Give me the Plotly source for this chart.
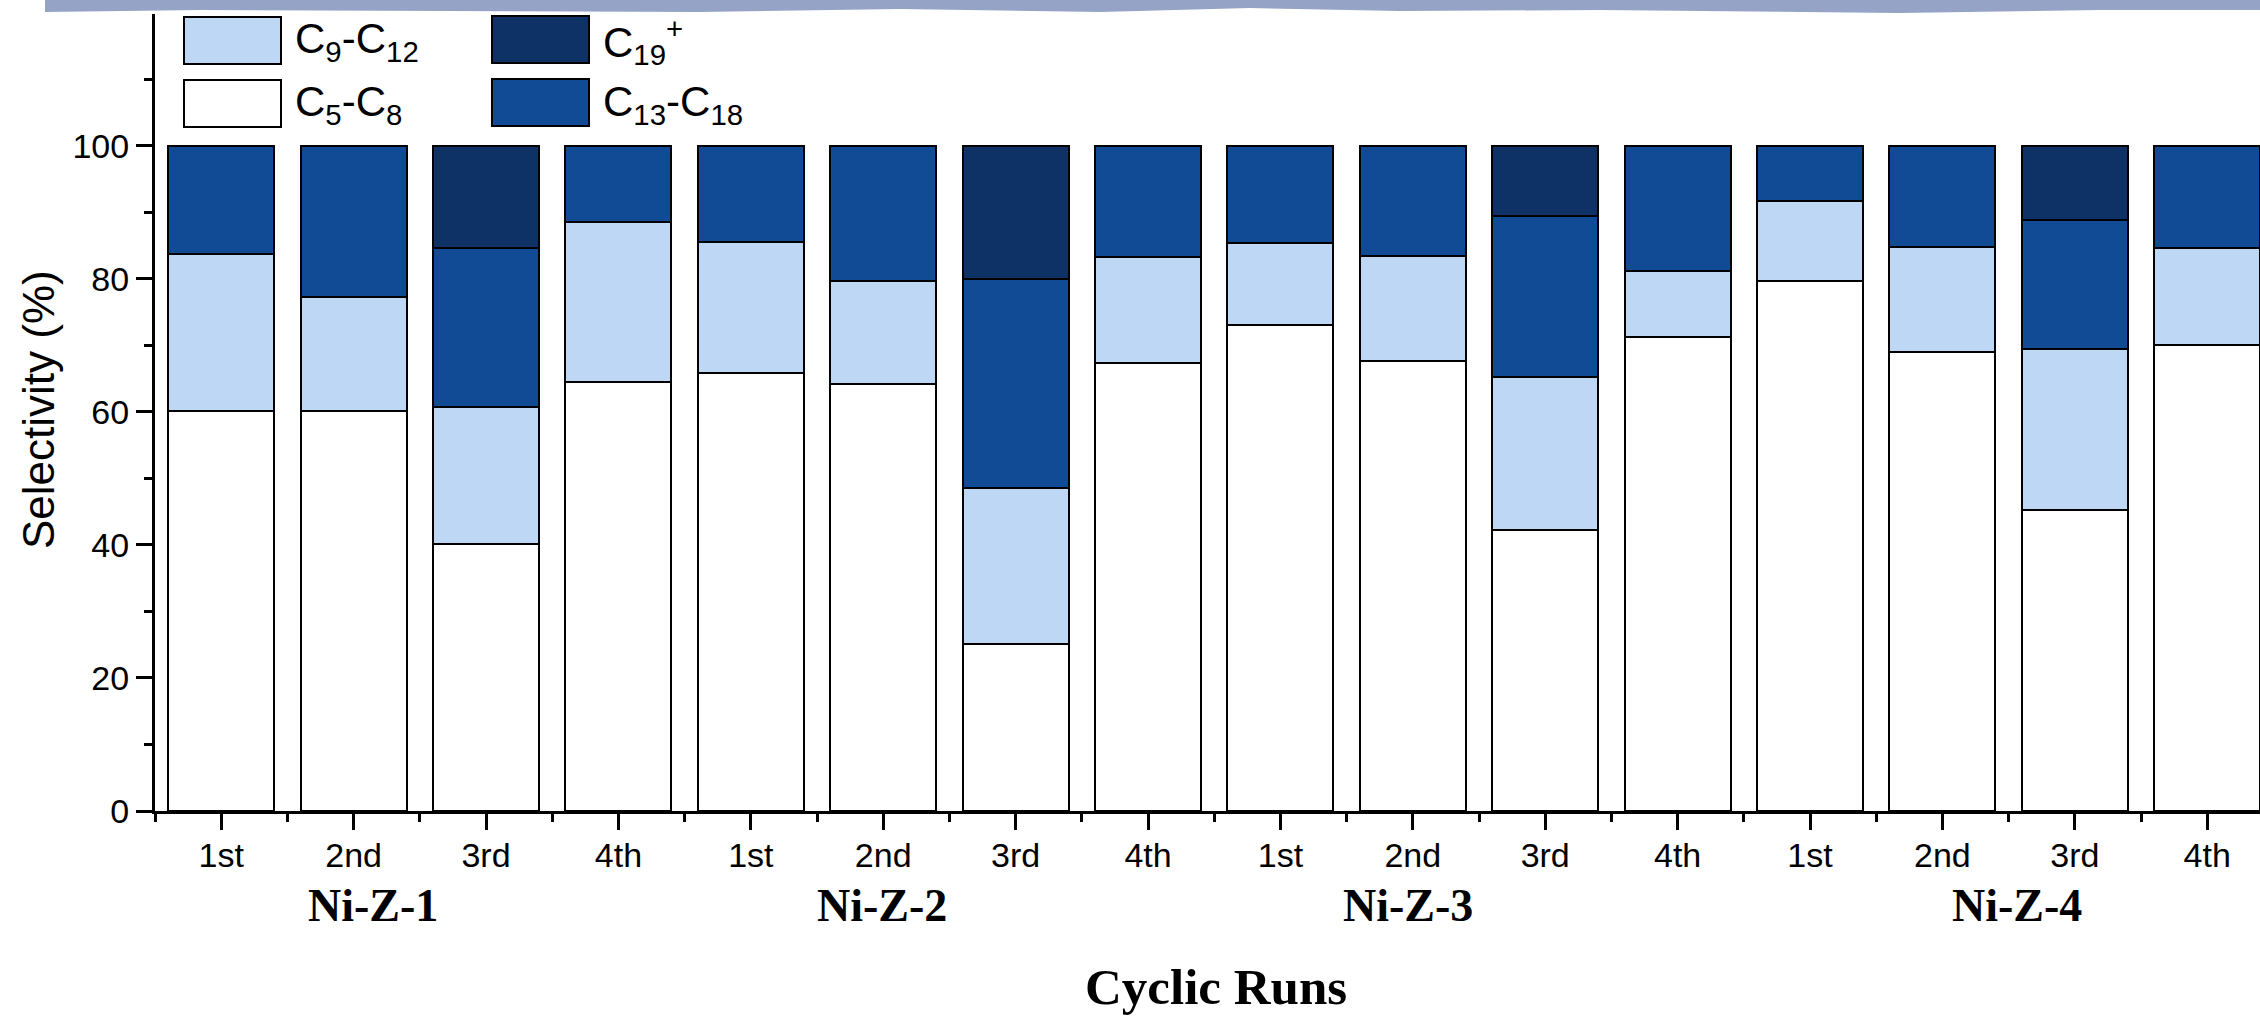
import plotly.graph_objects as go

# ---------------- data ----------------
runs = ["1st", "2nd", "3rd", "4th"] * 4
groups = ["Ni-Z-1", "Ni-Z-2", "Ni-Z-3", "Ni-Z-4"]
group_label_pos = [1.15, 4.99, 8.96, 13.56]

c5_c8 = [60.2, 60.2, 40.2, 64.5, 65.9, 64.2, 25.1, 67.4, 73.0, 67.6, 42.3, 71.2, 79.7, 69.0, 45.2, 70.1]
c9_c12 = [23.6, 17.0, 20.6, 24.0, 19.7, 15.5, 23.4, 15.8, 12.4, 15.8, 23.0, 10.0, 12.0, 15.8, 24.2, 14.6]
c13_c18 = [16.2, 22.8, 23.9, 11.5, 14.4, 20.3, 31.4, 16.8, 14.6, 16.6, 24.2, 18.8, 8.3, 15.2, 19.5, 15.3]
c19_plus = [None, None, 15.3, None, None, None, 20.1, None, None, None, 10.5, None, None, None, 11.1, None]

series_names = ["C5-C8", "C9-C12", "C13-C18", "C19+"]
series_values = [c5_c8, c9_c12, c13_c18, c19_plus]
series_colors = ["#FFFFFF", "#BDD7F5", "#124B95", "#0E3166"]

# ---------------- geometry ----------------
W, H = 2260, 1017
ML, MR, MT, MB = 155, 0, 14, 206
PW = W - ML - MR
PH = H - MT - MB


def px_x(p):
    return (p - ML) / PW


def px_y(p):
    return (H - MB - p) / PH


xpos = list(range(len(runs)))

fig = go.Figure()
for name, vals, col in zip(series_names, series_values, series_colors):
    fig.add_trace(go.Bar(
        x=xpos, y=vals, name=name, width=0.8,
        marker=dict(color=col, line=dict(color="black", width=2)),
        showlegend=False,
    ))

SANS = "Liberation Sans, Arial, sans-serif"
SERIF = "Liberation Serif, Times New Roman, serif"

fig.update_layout(
    width=W, height=H,
    margin=dict(l=ML, r=MR, t=MT, b=MB),
    barmode="stack",
    plot_bgcolor="white", paper_bgcolor="white",
    font=dict(family=SANS, color="black", size=34),
    xaxis=dict(
        range=[-0.5, -0.5 + PW / 132.4],
        tickvals=xpos, ticktext=runs,
        showline=True, linecolor="black", linewidth=3,
        ticks="outside", ticklen=16, tickwidth=3, tickcolor="black",
        minor=dict(tick0=0.5, dtick=1, ticks="outside", ticklen=8, tickwidth=3, tickcolor="black"),
        showgrid=False, zeroline=False,
        ticklabelstandoff=-4,
        tickfont=dict(size=34, family=SANS),
    ),
    yaxis=dict(
        range=[0, 119.8],
        tick0=0, dtick=20,
        showline=True, linecolor="black", linewidth=3,
        ticks="outside", ticklen=16, tickwidth=3, tickcolor="black",
        minor=dict(tick0=0, dtick=10, ticks="outside", ticklen=8, tickwidth=3, tickcolor="black"),
        showgrid=False, zeroline=False,
        tickfont=dict(size=34, family=SANS),
    ),
)

# y-axis title
fig.add_annotation(text="Selectivity (%)", xref="paper", yref="paper",
                   x=px_x(38), y=px_y(410), textangle=-90, showarrow=False,
                   xanchor="center", yanchor="middle",
                   font=dict(size=44, family=SANS))

# group labels
for g, p in zip(groups, group_label_pos):
    fig.add_annotation(text="<b>%s</b>" % g, xref="x", yref="paper",
                       x=p, y=px_y(905), showarrow=False,
                       xanchor="center", yanchor="middle",
                       font=dict(size=46, family=SERIF))

# x-axis title
fig.add_annotation(text="<b>Cyclic Runs</b>", xref="x", yref="paper",
                   x=7.51, y=px_y(987), showarrow=False,
                   xanchor="center", yanchor="middle",
                   font=dict(size=51, family=SERIF))

# custom legend (two columns)
legend_items = [
    ("C<sub>9</sub>-C<sub>12</sub>", "#BDD7F5", 184, 17, 281, 64, 293, 41),
    ("C<sub>5</sub>-C<sub>8</sub>", "#FFFFFF", 184, 80, 281, 127, 293, 104),
    ("C<sub>19</sub><sup>+</sup>", "#0E3166", 492, 16, 589, 63, 601, 41),
    ("C<sub>13</sub>-C<sub>18</sub>", "#124B95", 492, 79, 589, 126, 601, 104),
]
for txt, col, x0, y0, x1, y1, tx, ty in legend_items:
    fig.add_shape(type="rect", xref="paper", yref="paper",
                  x0=px_x(x0), x1=px_x(x1), y0=px_y(y1), y1=px_y(y0),
                  fillcolor=col, line=dict(color="black", width=2))
    fig.add_annotation(text=txt, xref="paper", yref="paper",
                       x=px_x(tx), y=px_y(ty), showarrow=False,
                       xanchor="left", yanchor="middle",
                       font=dict(size=42, family=SANS))

# top decorative wavy band
band_x = [45, 200, 450, 700, 900, 1100, 1250, 1400, 1600, 1900, 2100, 2260]
band_y = [12, 10, 11, 12, 9, 12, 8, 11, 10, 13, 10, 10]
path = "M %f,%f " % (px_x(45), px_y(0))
for bx, by in zip(band_x, band_y):
    path += "L %f,%f " % (px_x(bx), px_y(by))
path += "L %f,%f Z" % (px_x(2260), px_y(0))
fig.add_shape(type="path", xref="paper", yref="paper", path=path,
              fillcolor="#94A3C6", line=dict(width=0), layer="above")

fig.write_html("out.html")
